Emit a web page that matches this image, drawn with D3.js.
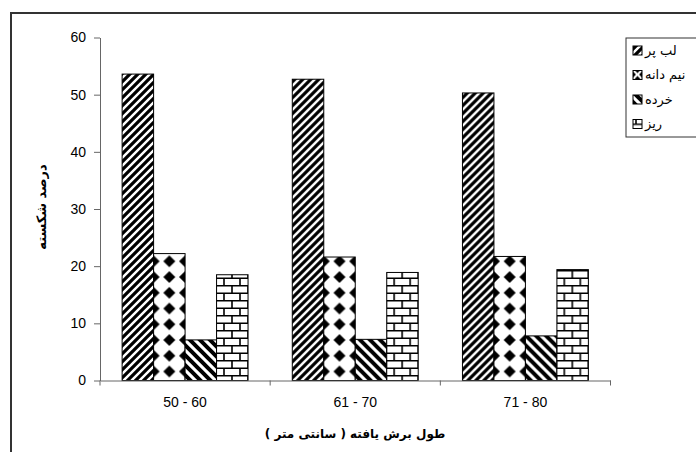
<!DOCTYPE html>
<html><head><meta charset="utf-8">
<script src="https://cdn.jsdelivr.net/npm/d3@7"></script>
<style>
html,body{margin:0;padding:0;background:#fff;}
svg{display:block;font-family:"Liberation Sans","DejaVu Sans",Arial,sans-serif;}
</style></head>
<body>
<svg id="chart" width="696" height="452"></svg>
<script>
const categories = ["50 - 60", "61 - 70", "71 - 80"];
const seriesNames = ["لب پر", "نیم دانه", "خرده", "ریز"];
const libPar   = [53.6, 52.7, 50.3];
const nimDaneh = [22.2, 21.6, 21.7];
const khordeh  = [7.1, 7.2, 7.8];
const riz      = [18.5, 18.9, 19.4];
const yTicks   = [0, 10, 20, 30, 40, 50, 60];
const yTitle = "درصد شکسته";
const xTitle = "طول برش یافته ( سانتی متر )";

const seriesValues = [libPar, nimDaneh, khordeh, riz];
const patternIds = ["pLib", "pNim", "pKhor", "pRiz"];

const svg = d3.select("#chart");
const defs = svg.append("defs");

// outer frame
svg.append("rect").attr("x", 11).attr("y", 13).attr("width", 720).attr("height", 470)
  .attr("fill", "none").attr("stroke", "#333").attr("stroke-width", 2);

const x0 = d3.scaleBand().domain(categories).range([100, 610.5]).paddingInner(0).paddingOuter(0);
const bw = x0.bandwidth();
const gap = bw * 0.13;
const x1 = d3.scaleBand().domain(d3.range(seriesNames.length)).range([gap, bw - gap]).padding(0);
const y = d3.scaleLinear().domain([0, 60]).range([380.5, 37.5]);
const barW = x1.bandwidth();

// patterns
function pat(id, w, h, px, py) {
  const p = defs.append("pattern").attr("id", id).attr("patternUnits", "userSpaceOnUse")
    .attr("width", w).attr("height", h).attr("x", px || 0).attr("y", py || 0);
  p.append("rect").attr("width", w).attr("height", h).attr("fill", "#fff");
  return p;
}
{ // upward diagonal
  const p = pat("pLib", 8, 8);
  p.append("path").attr("d", "M-2,10 L10,-2 M-2,2 L2,-2 M6,10 L10,6")
    .attr("stroke", "#000").attr("stroke-width", 3.2);
}
{ // diamonds, aligned so diamonds sit on bar edges and centre
  const w = barW / 2, h = barW / 2;
  const p = pat("pNim", w, h, x1(1), y(0) - 9);
  const r = 6;
  const dm = (cx, cy) => `M${cx},${cy-r} L${cx+r},${cy} L${cx},${cy+r} L${cx-r},${cy} Z`;
  p.append("path").attr("d", [dm(0,0), dm(w,0), dm(0,h), dm(w,h)].join(" ")).attr("fill", "#000");
}
{ // downward diagonal wide
  const p = pat("pKhor", 10, 10);
  p.append("path").attr("d", "M-2,-2 L12,12 M-2,8 L2,12 M8,-2 L12,2")
    .attr("stroke", "#000").attr("stroke-width", 4);
}
{ // bricks
  const p = pat("pRiz", 16, 15);
  p.append("path").attr("d", "M0,0.75 H16 M0,8.25 H16 M4,0 V7.5 M12,7.5 V15")
    .attr("stroke", "#000").attr("stroke-width", 1.6);
}
{ // legend-size diamond swatch
  const p = pat("pNimL", 9, 9, 633, 0);
  const r = 3;
  const dm = (cx, cy) => `M${cx},${cy-r} L${cx+r},${cy} L${cx},${cy+r} L${cx-r},${cy} Z`;
  p.append("path").attr("d", [dm(0,0), dm(9,0), dm(0,9), dm(9,9), dm(4.5,4.5)].join(" ")).attr("fill", "#000");
}

// bars
const groups = svg.append("g").selectAll("g").data(categories).join("g")
  .attr("transform", d => `translate(${x0(d)},0)`);
groups.selectAll("rect").data((c, ci) => seriesValues.map((vals, si) => ({si, ci, v: vals[ci]})))
  .join("rect")
  .attr("x", d => x1(d.si)).attr("width", barW)
  .attr("y", d => y(d.v)).attr("height", d => y(0) - y(d.v))
  .attr("fill", d => `url(#${patternIds[d.si]})`)
  .attr("stroke", "#000").attr("stroke-width", 1);

// y axis
const yAxis = d3.axisLeft(y).tickValues(yTicks).tickSize(6).tickPadding(8).tickSizeOuter(0);
const gy = svg.append("g").attr("transform", "translate(100,0)").call(yAxis);
gy.selectAll("text").attr("font-size", 14).attr("fill", "#000")
  .attr("font-family", "Liberation Sans, Arial, sans-serif");
gy.selectAll("line,path").attr("stroke", "#666");
// x axis
const xAxis = d3.axisBottom(x0).tickSize(0).tickPadding(17).tickSizeOuter(0);
const gx = svg.append("g").attr("transform", "translate(0,380.5)").call(xAxis);
gx.selectAll("text").attr("font-size", 14).attr("fill", "#000")
  .attr("font-family", "Liberation Sans, Arial, sans-serif");
gx.select(".domain").attr("stroke", "#666");
const bounds = categories.map(c => x0(c)).concat([x0(categories[categories.length-1]) + bw]);
gx.selectAll(".bnd").data(bounds).join("line").attr("class", "bnd")
  .attr("x1", d => d).attr("x2", d => d).attr("y1", 0).attr("y2", 5)
  .attr("stroke", "#666");

// titles
svg.append("text").attr("transform", "translate(46,207) rotate(-90)")
  .attr("text-anchor", "middle").attr("font-size", 13).attr("font-weight", "bold")
  .attr("font-family", "DejaVu Sans, sans-serif").text(yTitle);
svg.append("text").attr("x", 355).attr("y", 438)
  .attr("text-anchor", "middle").attr("font-size", 12).attr("font-weight", "bold")
  .attr("font-family", "DejaVu Sans, sans-serif").text(xTitle);

// legend
const lg = svg.append("g");
lg.append("rect").attr("x", 626).attr("y", 38).attr("width", 100).attr("height", 99)
  .attr("fill", "#fff").attr("stroke", "#333").attr("stroke-width", 1);
const legendFills = ["url(#pLib)", "url(#pNimL)", "url(#pKhor)", "url(#pRiz)"];
const items = lg.selectAll("g.item").data(seriesNames).join("g").attr("class", "item")
  .attr("transform", (d, i) => `translate(0,${50 + i * 24.5})`);
items.append("rect").attr("x", 633).attr("y", -4).attr("width", 9).attr("height", 9)
  .attr("fill", (d, i) => legendFills[i]).attr("stroke", "#000").attr("stroke-width", 1);
items.append("text").attr("x", 645).attr("y", 4.5).attr("font-size", 13)
  .attr("font-family", "DejaVu Sans, sans-serif").text(d => d);
</script>
</body></html>
